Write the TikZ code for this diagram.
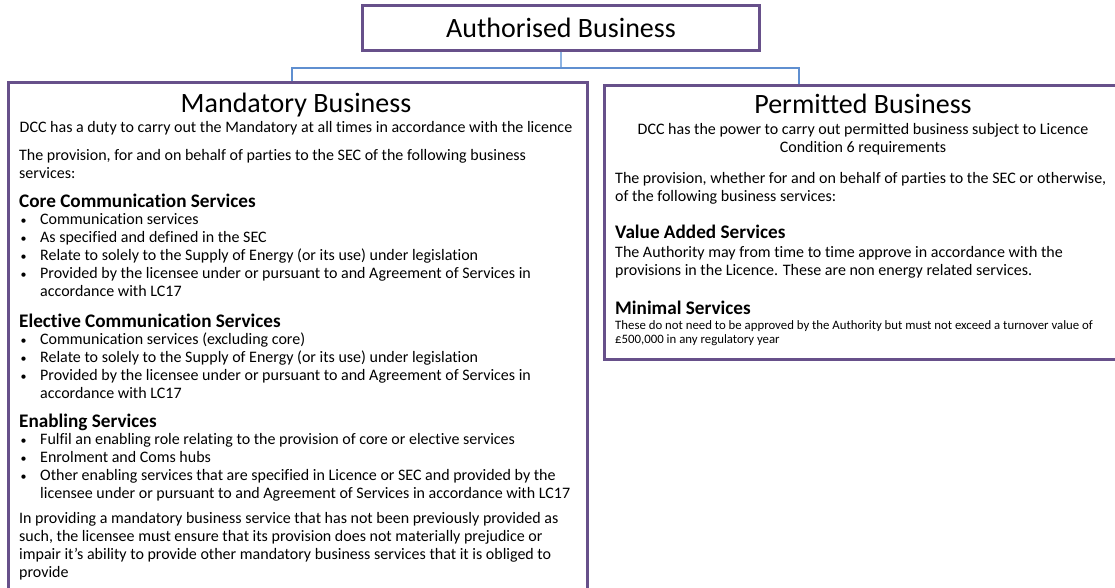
\documentclass[tikz,border=0pt]{standalone}
\usepackage{fontspec}
\setmainfont{Carlito}[Ligatures={NoCommon,NoContextual}]
\usetikzlibrary{positioning,calc}
\definecolor{boxpurple}{HTML}{67508A}
\definecolor{linkblue}{HTML}{5F8FD0}
\definecolor{stemblue}{HTML}{8DB3E2}
\newcommand{\bul}{\makebox[21pt][l]{\hspace{1.5pt}{\fontsize{12}{12}\selectfont\textbullet}}}
\newcommand{\cont}{\hspace*{21pt}}
\tikzset{
  topbox/.style = {rectangle, draw=boxpurple, line width=3pt, minimum width=397pt,
    minimum height=45pt, inner sep=0pt},
  panel/.style = {rectangle, draw=boxpurple, line width=3pt, anchor=north west, inner sep=0pt},
  title/.style = {anchor=base, inner sep=0pt, font=\fontsize{28}{32}\selectfont},
  % multi-line texts sit on the baseline of their last line
  body/.style = {anchor=base west, align=left, inner sep=0pt, font=\fontsize{16}{17.9}\selectfont},
  centred/.style = {anchor=base, align=center, inner sep=0pt, font=\fontsize{16}{17.9}\selectfont},
  heading/.style = {anchor=base west, inner sep=0pt, font=\fontsize{19.2}{21}\selectfont\bfseries},
  fine/.style = {anchor=base west, align=left, inner sep=0pt, font=\fontsize{12.8}{13.8}\selectfont},
  link/.style = {draw=linkblue, line width=2pt},
  stem/.style = {draw=stemblue, line width=1.5pt}
}

\begin{document}
\begin{tikzpicture}[x=1pt, y=-1pt]
\useasboundingbox (0,0) rectangle (1115,587);
\fill[white] (0,0) rectangle (1115,587);
\clip (0,0) rectangle (1115,587);

% boxes
\node[topbox] (auth) at (561,27.5) {};
\node[panel, minimum width=579pt, minimum height=560pt] (mand) at (7,81) {};
\node[panel, minimum width=525pt, minimum height=274pt] (perm) at (603,84) {};

\node[title] (authtitle) at (561,37.5) {Authorised Business};

% connectors
\coordinate[below=16.5pt of auth.south] (split);
\draw[stem] (auth.south) -- (split);
\draw[link] (split) -| ([xshift=-6.5pt]mand.north);
\draw[link] (split) -| ([xshift=-68.5pt]perm.north);

% mandatory business
\node[title] (mandtitle) at (296,112) {Mandatory Business};
\node[centred] (manddesc) at (296,132) {DCC has a duty to carry out the Mandatory at all times in accordance with the licence};
\node[body] (mandintro) at (19,178) {The provision, for and on behalf of parties to the SEC of the following business\\services:};

\node[heading] (corehead) at (19,207) {Core Communication Services};
\node[body] (corelist) at (19,296.5) {\bul Communication services\\
  \bul As specified and defined in the SEC\\
  \bul Relate to solely to the Supply of Energy (or its use) under legislation\\
  \bul Provided by the licensee under or pursuant to and Agreement of Services in\\
  \cont accordance with LC17};

\node[heading] (electhead) at (19,327) {Elective Communication Services};
\node[body] (electlist) at (19,398.5) {\bul Communication services (excluding core)\\
  \bul Relate to solely to the Supply of Energy (or its use) under legislation\\
  \bul Provided by the licensee under or pursuant to and Agreement of Services in\\
  \cont accordance with LC17};

\node[heading] (enabhead) at (19,427.5) {Enabling Services};
\node[body] (enablist) at (19,498.5) {\bul Fulfil an enabling role relating to the provision of core or elective services\\
  \bul Enrolment and Coms hubs\\
  \bul Other enabling services that are specified in Licence or SEC and provided by the\\
  \cont licensee under or pursuant to and Agreement of Services in accordance with LC17};

\node[body] (mandnote) at (19,577) {In providing a mandatory business service that has not been previously provided as\\
  such, the licensee must ensure that its provision does not materially prejudice or\\
  impair it’s ability to provide other mandatory business services that it is obliged to\\
  provide};

% permitted business
\node[title] (permtitle) at (863,113) {Permitted Business};
\node[centred] (permdesc) at (863,152) {DCC has the power to carry out permitted business subject to Licence\\Condition 6 requirements};
\node[body] (permintro) at (615,201) {The provision, whether for and on behalf of parties to the SEC or otherwise,\\of the following business services:};

\node[heading] (valuehead) at (615,238) {Value Added Services};
\node[body] (valuetext) at (615,275) {The Authority may from time to time approve in accordance with the\\provisions in the Licence. These are non energy related services.};

\node[heading] (minhead) at (615,314.5) {Minimal Services};
\node[fine] (mintext) at (615,343) {These do not need to be approved by the Authority but must not exceed a turnover value of\\£500,000 in any regulatory year};

\end{tikzpicture}
\end{document}
